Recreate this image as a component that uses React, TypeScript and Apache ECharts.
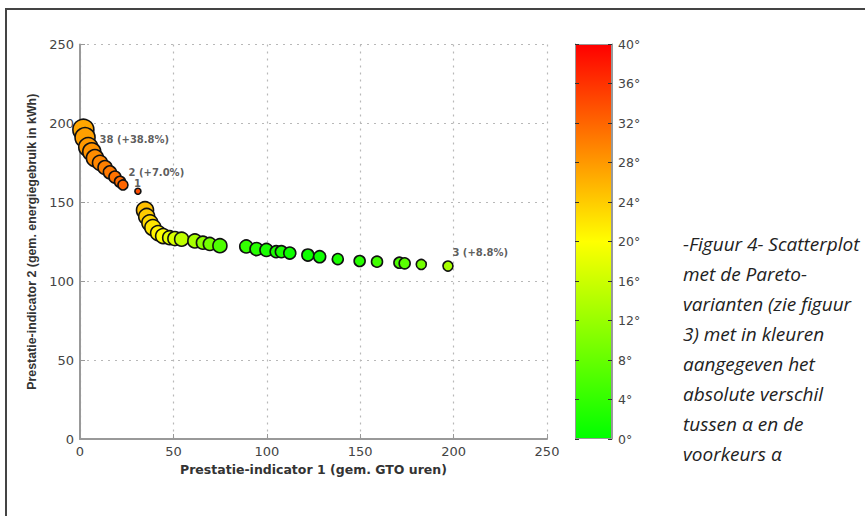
import { useEffect, useRef } from "react";
import * as echarts from "echarts";

// Pareto variants: performance indicator 1 (x), indicator 2 (y), |alpha diff| (deg), marker size
const paretoX = [
  1.8, 2.7, 4.4, 6.3, 8, 10.7, 13.4, 16, 18.7, 21.4, 23, 31,
  34.8, 35.7, 37.4, 39, 41.8, 44.5, 48, 50.8, 54.4, 61.5, 65.8, 69.5, 74.9,
  89, 94.5, 99.8, 105, 107.8, 112.3, 122, 128.3, 138, 149.7, 159, 171, 173.8, 182.7, 197,
];
const paretoY = [
  196, 191, 185, 182, 178, 175, 172, 169, 166, 163, 161, 157,
  145, 141, 137, 134, 130.5, 128.6, 127.6, 127, 126.6, 125.5, 124.4, 123.6, 122.5,
  122, 120.4, 119.8, 118.7, 118.7, 117.8, 116.6, 115.5, 114, 112.8, 112.4, 111.7, 111.3, 110.6, 109.6,
];
const alphaDiff = [
  27, 27.5, 28, 28.5, 29, 29.5, 30, 30.5, 31, 31.5, 32, 34,
  25, 24, 23, 22, 21, 20, 18, 17, 15, 13, 11, 9, 6,
  4, 3, 2, 2, 2, 1, 1, 1, 2, 3, 5, 6, 7, 9, 13,
];
const markerSize = [
  21, 20, 19, 18, 17, 15, 14, 13, 12, 11, 10, 6,
  17, 16, 16, 16, 15, 15, 14, 14, 14, 14, 13, 13, 14,
  13, 13, 13, 12, 12, 12, 12, 12, 11, 11, 11, 11, 11, 10, 10,
];

// Variant labels (data coordinates of label anchor)
const labelX = [10.2, 25.7, 28.6, 199.1];
const labelY = [189.5, 169, 161.6, 117.9];
const labelText = ["38 (+38.8%)", "2 (+7.0%)", "1", "3 (+8.8%)"];

const colorStops = ["#00ff00", "#ffff00", "#ff0000"];
const captionLines = [
  "-Figuur 4- Scatterplot",
  "met de Pareto-",
  "varianten (zie figuur",
  "3) met in kleuren",
  "aangegeven het",
  "absolute verschil",
  "tussen \u03b1 en de",
  "voorkeurs \u03b1",
];

export default function App() {
  const ref = useRef<HTMLDivElement>(null);
  useEffect(() => {
    if (!ref.current) return;
    const chart = echarts.init(ref.current, null, { renderer: "svg" });
    const font = "Liberation Sans, Arial, Helvetica, sans-serif";
    const wide = "DejaVu Sans, Verdana, sans-serif";
    const points = paretoX.map((x, i) => [x, paretoY[i], alphaDiff[i], markerSize[i]]);
    const labels = labelX.map((x, i) => [x, labelY[i], labelText[i]]);
    const grid = { show: true, lineStyle: { type: [2, 5], color: "#b8b8b8", width: 1.2 } };
    chart.setOption({
      animation: false,
      backgroundColor: "#ffffff",
      textStyle: { fontFamily: font },
      grid: [
        { left: 80, top: 44.5, width: 467, height: 394.5 },
        { left: 575, top: 44, width: 37, height: 395 },
      ],
      xAxis: [
        {
          type: "value", gridIndex: 0, min: 0, max: 250, interval: 50,
          name: "Prestatie-indicator 1 (gem. GTO uren)",
          nameLocation: "middle", nameGap: 23,
          nameTextStyle: { fontSize: 12.5, fontWeight: "bold", color: "#333", fontFamily: wide },
          axisLine: { show: true, lineStyle: { color: "#999", width: 2 } },
          axisTick: { show: true, inside: true, length: 5, lineStyle: { color: "#999" } },
          axisLabel: { fontSize: 13, color: "#444", margin: 6, fontFamily: wide },
          splitLine: grid,
        },
        {
          type: "category", gridIndex: 1, data: [""], show: false,
        },
      ],
      yAxis: [
        {
          type: "value", gridIndex: 0, min: 0, max: 250, interval: 50,
          name: "Prestatie-indicator 2 (gem. energiegebruik in kWh)",
          nameLocation: "middle", nameGap: 42,
          nameTextStyle: { fontSize: 12.4, fontWeight: "bold", color: "#333", fontFamily: font },
          axisLine: { show: true, lineStyle: { color: "#999", width: 2 } },
          axisTick: { show: true, inside: true, length: 5, lineStyle: { color: "#999" } },
          axisLabel: { fontSize: 13, color: "#444", margin: 6, fontFamily: wide },
          splitLine: grid,
        },
        {
          type: "value", gridIndex: 1, min: 0, max: 40, interval: 4, position: "right", z: 5,
          axisLine: { show: true, lineStyle: { color: "#999", width: 1 } },
          axisTick: { show: true, inside: true, length: 4, lineStyle: { color: "#333" } },
          axisLabel: { fontSize: 12.5, color: "#444", margin: 6, formatter: "{value}\u00b0", fontFamily: wide },
          splitLine: { show: false },
        },
        {
          type: "value", gridIndex: 1, min: 0, max: 40, interval: 4, position: "left", z: 5,
          axisLine: { show: true, lineStyle: { color: "#999", width: 1 } },
          axisTick: { show: true, inside: true, length: 4, lineStyle: { color: "#333" } },
          axisLabel: { show: false },
          splitLine: { show: false },
        },
      ],
      visualMap: {
        type: "continuous", show: false, min: 0, max: 40, dimension: 2, seriesIndex: 0,
        inRange: { color: colorStops },
      },
      series: [
        {
          type: "scatter", xAxisIndex: 0, yAxisIndex: 0, z: 3,
          data: points,
          symbolSize: (v: number[]) => v[3],
          itemStyle: { borderColor: "#111", borderWidth: 1.6, opacity: 1 },
        },
        {
          type: "scatter", xAxisIndex: 0, yAxisIndex: 0, z: 2,
          data: labels,
          symbolSize: 1,
          itemStyle: { color: "transparent" },
          label: {
            show: true, position: "right", distance: 0,
            formatter: (p: any) => p.data[2],
            fontSize: 10, fontWeight: "bold", color: "#333", fontFamily: wide,
          },
        },
        {
          type: "bar", xAxisIndex: 1, yAxisIndex: 2, z: 2,
          data: [40], barWidth: "100%",
          itemStyle: {
            color: new echarts.graphic.LinearGradient(0, 0, 0, 1, [
              { offset: 0, color: colorStops[2] },
              { offset: 0.5, color: colorStops[1] },
              { offset: 1, color: colorStops[0] },
            ]),
            borderColor: "#999", borderWidth: 1,
          },
        },
      ],
      graphic: [
        {
          type: "polyline", silent: true,
          shape: { points: [[6, 516], [6, 9], [865, 9]] },
          style: { stroke: "#444", lineWidth: 2, fill: "none" },
        },
        {
          type: "text", left: 683, top: 229,
          style: {
            text: captionLines.join("\n"),
            fontFamily: "Open Sans, Noto Sans, sans-serif",
            fontStyle: "italic", fontSize: 19, lineHeight: 30, fill: "#222",
          },
        },
      ],
    });
    return () => chart.dispose();
  }, []);
  return (
    <div
      ref={ref}
      style={{ position: "fixed", left: 0, top: 0, width: 865, height: 516 }}
    />
  );
}
